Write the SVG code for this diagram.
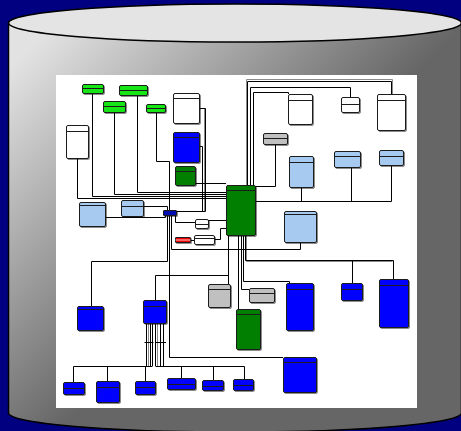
<svg xmlns="http://www.w3.org/2000/svg" width="461" height="431" viewBox="0 0 461 431">
<defs>
<linearGradient id="body" gradientUnits="userSpaceOnUse" x1="20" y1="60" x2="224" y2="264">
<stop offset="0" stop-color="#e2e2e2"/>
<stop offset="1" stop-color="#666666"/>
</linearGradient>
<filter id="ds" x="-30%" y="-30%" width="160%" height="160%">
<feDropShadow dx="1" dy="1" stdDeviation="0.7" flood-color="#000" flood-opacity="0.45"/>
</filter>
</defs>
<style>
.n rect{stroke:#1a1a1a;stroke-width:1;}
.n line{stroke:#1a1a1a;stroke-width:1;}
.n{filter:url(#ds);}
.lg rect{fill:#19e619;}
.dg rect{fill:#007f00;}
.bl rect{fill:#0000ff;}
.wh rect{fill:#ffffff;}
.gr rect{fill:#c0c0c0;}
.lb rect{fill:#a6caf0;}
.nv rect{fill:#0010b0;}
.rd rect{fill:#ee0000;}
#connectors path{fill:none;stroke:#000;stroke-width:1;}
#connectors path.g{stroke:#8a8a8a;}
</style>
<rect x="0" y="0" width="461" height="431" fill="#000080"/>
<g id="cylinder">
<path d="M8.5,23 V413 A226.5 19 0 0 0 461.5,413 V23 Z" fill="url(#body)" stroke="#000" stroke-width="1.5"/>
<ellipse cx="235" cy="23" rx="226.5" ry="19" fill="#e4e4e4" stroke="#000" stroke-width="1.5"/>
</g>
<rect x="56" y="75" width="361" height="333" fill="#ffffff"/>
<g id="connectors">
<path class="g" d="M204.5,108 V212"/>
<path class="g" d="M246.5,185 V79.5 H392.5 V94"/>
<path class="g" d="M246.5,235 V261.5 H392.5"/>
<path class="g" d="M148.5,323 V366"/>
<path class="g" d="M157.5,323 V366"/>
<path d="M77.5,158 V198.5 H226"/>
<path d="M92.5,93 V196.5 H226"/>
<path d="M114.5,112 V194.5 H226"/>
<path d="M137.5,95 V192.5 H226"/>
<path d="M156.5,112 V161.5 H169.5 V210"/>
<path d="M199,108.5 H205.5 V211.5 H176"/>
<path d="M199,146.5 H202.5 V211.5"/>
<path d="M195,183.5 H226"/>
<path d="M143,206.5 H167.5 V210"/>
<path d="M105,217.5 H165.5 V215"/>
<path d="M175.5,215 V222.5 H195"/>
<path d="M208,220.5 H226"/>
<path d="M190,240.5 H194"/>
<path d="M214,239.5 H220.5 V228.5 H226"/>
<path d="M167.5,215 V261.5 H91.5 V306"/>
<path d="M171.5,215 V249.5 H300.5 V242"/>
<path d="M169.5,215 V357.5 H283"/>
<path d="M155.5,300 V275.5 H228.5"/>
<path d="M228.5,235 V284"/>
<path d="M238.5,235 V309"/>
<path d="M241.5,235 V289.5 H249"/>
<path d="M243.5,235 V281.5 H289.5 V283"/>
<path d="M245.5,235 V260.5 H393.5 V279"/>
<path d="M352.5,260.5 V283"/>
<path d="M255,201.5 H391.5 V165"/>
<path d="M301.5,201.5 V187"/>
<path d="M351.5,201.5 V167"/>
<path d="M275.5,144 V186.5 H255"/>
<path d="M247.5,185 V81.5 H391.5 V94"/>
<path d="M250.5,185 V87.5 H350.5 V97"/>
<path d="M253.5,185 V92.5 H288.5 V94"/>
<path d="M146.5,323 V366 M150.5,323 V366 M152.5,323 V366"/>
<path d="M73.5,382 V366.5 H152.5 M107.5,366.5 V381 M145.5,366.5 V381"/>
<path d="M155.5,323 V366 M160.5,323 V366 M163.5,323 V366"/>
<path d="M155.5,366.5 H244.5 V379 M181.5,366.5 V378 M213.5,366.5 V380"/>
<path d="M144.5,342.5 H153.5 M155,342.5 H166"/>
</g>
<g id="nodes" transform="translate(0.5,0.5)">
<g id="g1" class="n lg"><rect x="82" y="84" width="21" height="9" rx="1.5"/><line x1="82" y1="88" x2="103" y2="88"/></g>
<g id="g2" class="n lg"><rect x="119" y="85" width="28" height="10" rx="1.5"/><line x1="119" y1="90" x2="147" y2="90"/></g>
<g id="g3" class="n lg"><rect x="103" y="101" width="22" height="11" rx="1.5"/><line x1="103" y1="106" x2="125" y2="106"/></g>
<g id="g4" class="n lg"><rect x="146" y="104" width="19" height="8" rx="1.5"/><line x1="146" y1="108" x2="165" y2="108"/></g>
<g id="wleft" class="n wh"><rect x="66" y="125" width="22" height="33" rx="1.5"/><line x1="66" y1="131" x2="88" y2="131"/></g>
<g id="wtop" class="n wh"><rect x="173" y="93" width="26" height="30" rx="1.5"/><line x1="173" y1="98" x2="199" y2="98"/></g>
<g id="wA" class="n wh"><rect x="288" y="94" width="24" height="30" rx="1.5"/><line x1="288" y1="100" x2="312" y2="100"/></g>
<g id="wB" class="n wh"><rect x="341" y="97" width="18" height="15" rx="1.5"/><line x1="341" y1="104" x2="359" y2="104"/></g>
<g id="wC" class="n wh"><rect x="377" y="94" width="28" height="36" rx="1.5"/><line x1="377" y1="100" x2="405" y2="100"/></g>
<g id="w1" class="n wh"><rect x="195" y="219" width="13" height="9" rx="1.5"/><line x1="195" y1="224" x2="208" y2="224"/></g>
<g id="w2" class="n wh"><rect x="194" y="235" width="20" height="9" rx="1.5"/><line x1="194" y1="238" x2="214" y2="238"/></g>
<g id="btop" class="n bl"><rect x="173" y="132" width="26" height="30" rx="1.5"/><line x1="173" y1="137" x2="199" y2="137"/></g>
<g id="bL1" class="n bl"><rect x="77" y="306" width="26" height="24" rx="1.5"/><line x1="77" y1="309" x2="103" y2="309"/></g>
<g id="hub" class="n bl"><rect x="143" y="300" width="23" height="23" rx="1.5"/><line x1="143" y1="306" x2="166" y2="306"/></g>
<g id="b3" class="n bl"><rect x="286" y="283" width="27" height="47" rx="1.5"/><line x1="286" y1="289" x2="313" y2="289"/></g>
<g id="b4" class="n bl"><rect x="341" y="283" width="21" height="17" rx="1.5"/><line x1="341" y1="289" x2="362" y2="289"/></g>
<g id="b5" class="n bl"><rect x="379" y="279" width="29" height="48" rx="1.5"/><line x1="379" y1="285" x2="408" y2="285"/></g>
<g id="bBig" class="n bl"><rect x="283" y="357" width="33" height="35" rx="1.5"/><line x1="283" y1="362" x2="316" y2="362"/></g>
<g id="bb1" class="n bl"><rect x="63" y="382" width="21" height="12" rx="1.5"/><line x1="63" y1="388" x2="84" y2="388"/></g>
<g id="bb2" class="n bl"><rect x="96" y="381" width="23" height="21" rx="1.5"/><line x1="96" y1="387" x2="119" y2="387"/></g>
<g id="bb3" class="n bl"><rect x="135" y="381" width="20" height="13" rx="1.5"/><line x1="135" y1="387" x2="155" y2="387"/></g>
<g id="bb4" class="n bl"><rect x="167" y="378" width="28" height="11" rx="1.5"/><line x1="167" y1="384" x2="195" y2="384"/></g>
<g id="bb5" class="n bl"><rect x="202" y="380" width="21" height="10" rx="1.5"/><line x1="202" y1="386" x2="223" y2="386"/></g>
<g id="bb6" class="n bl"><rect x="233" y="379" width="20" height="11" rx="1.5"/><line x1="233" y1="385" x2="253" y2="385"/></g>
<g id="dgsmall" class="n dg"><rect x="175" y="166" width="20" height="19" rx="1.5"/><line x1="175" y1="171" x2="195" y2="171"/></g>
<g id="greenbig" class="n dg"><rect x="226" y="185" width="29" height="50" rx="1.5"/><line x1="226" y1="190" x2="255" y2="190"/></g>
<g id="dgtall" class="n dg"><rect x="236" y="309" width="24" height="40" rx="1.5"/><line x1="236" y1="314" x2="260" y2="314"/></g>
<g id="gray1" class="n gr"><rect x="263" y="133" width="24" height="11" rx="1.5"/><line x1="263" y1="138" x2="287" y2="138"/></g>
<g id="gray2" class="n gr"><rect x="208" y="284" width="22" height="23" rx="1.5"/><line x1="208" y1="289" x2="230" y2="289"/></g>
<g id="gray3" class="n gr"><rect x="249" y="288" width="25" height="14" rx="1.5"/><line x1="249" y1="293" x2="274" y2="293"/></g>
<g id="lb1" class="n lb"><rect x="79" y="202" width="26" height="24" rx="1.5"/><line x1="79" y1="205" x2="105" y2="205"/></g>
<g id="lb2" class="n lb"><rect x="121" y="200" width="22" height="16" rx="1.5"/><line x1="121" y1="206" x2="143" y2="206"/></g>
<g id="lb3" class="n lb"><rect x="289" y="156" width="24" height="31" rx="1.5"/><line x1="289" y1="162" x2="313" y2="162"/></g>
<g id="lb4" class="n lb"><rect x="334" y="151" width="26" height="16" rx="1.5"/><line x1="334" y1="156" x2="360" y2="156"/></g>
<g id="lb5" class="n lb"><rect x="379" y="150" width="24" height="15" rx="1.5"/><line x1="379" y1="156" x2="403" y2="156"/></g>
<g id="lbBig" class="n lb"><rect x="284" y="211" width="32" height="31" rx="1.5"/><line x1="284" y1="214" x2="316" y2="214"/></g>
<g id="navy" class="n nv"><rect x="163" y="210" width="13" height="5" rx="0.5"/></g>
<g id="red" class="n rd"><rect x="175" y="237" width="15" height="5" rx="0.5"/><line x1="175" y1="239.5" x2="190" y2="239.5" style="stroke:#fff;stroke-width:0.8"/></g>
</g>
</svg>
